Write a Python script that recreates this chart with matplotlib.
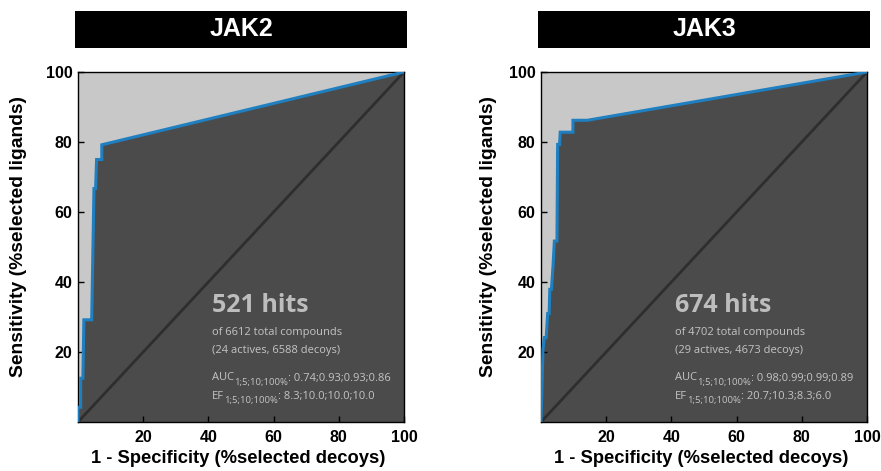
import numpy as np
import matplotlib
matplotlib.use("Agg")
import matplotlib.pyplot as plt
from matplotlib.patches import Rectangle

plt.rcParams['font.family'] = ['Liberation Sans', 'DejaVu Sans']

# ROC curve points (1 - specificity %, sensitivity %)
jak2_fpr = [0, 0, 0.8, 0.8, 1.5, 1.8, 4.2, 4.9, 5.4, 5.7, 7.3, 7.3, 100]
jak2_tpr = [0, 4.2, 4.2, 12.5, 12.5, 29.2, 29.2, 66.7, 66.7, 75.0, 75.0, 79.2, 100]
jak3_fpr = [0, 0.6, 1.0, 1.6, 2.05, 2.5, 2.7, 3.2, 3.7, 4.1, 4.9, 5.1, 5.7, 5.9, 9.8, 9.8, 14.2, 100]
jak3_tpr = [0, 20.7, 24.1, 24.1, 31.0, 31.0, 37.9, 37.9, 44.8, 51.7, 51.7, 79.3, 79.3, 82.8, 82.8, 86.2, 86.2, 100]

titles = ['JAK2', 'JAK3']
hits = ['521 hits', '674 hits']
totals = ['of 6612 total compounds', 'of 4702 total compounds']
splits = ['(24 actives, 6588 decoys)', '(29 actives, 4673 decoys)']
aucs = ['0.74;0.93;0.93;0.86', '0.98;0.99;0.99;0.89']
efs = ['8.3;10.0;10.0;10.0', '20.7;10.3;8.3;6.0']

ticks = [20, 40, 60, 80, 100]
sub = '1;5;10;100%'
fam = ['Open Sans', 'DejaVu Sans']
tcol = '#c4c4c4'


def sub_line(ax, x, y, head, value):
    # head + subscript + value, kept on one baseline
    t1 = ax.text(x, y, head, fontsize=8, color=tcol, family=fam, va='bottom', zorder=4)
    t2 = ax.annotate(sub, xy=(1, 0), xycoords=t1, xytext=(0, -2.2), textcoords='offset points',
                     fontsize=6.8, color=tcol, family=fam, va='bottom', zorder=4)
    ax.annotate(': ' + value, xy=(1, 0), xycoords=(t2, t1), fontsize=8, color=tcol,
                family=fam, va='bottom', zorder=4)


fig = plt.figure(figsize=(8.81, 4.71), dpi=100)

panels = [(jak2_fpr, jak2_tpr), (jak3_fpr, jak3_tpr)]
lefts = [78 / 881, 541 / 881]
ylab_x = [-0.156, -0.135]
w = 326 / 881
for i, (fx, ty) in enumerate(panels):
    ax = fig.add_axes([lefts[i], 49 / 471, w, 350 / 471])
    ax.set_facecolor('#c8c8c8')
    ax.fill(list(fx) + [100], list(ty) + [0], color='#4b4b4b', lw=0, zorder=1)
    ax.plot([0, 100], [0, 100], color='#2e2e2e', lw=2, zorder=2)
    ax.plot(fx, ty, color='#1f7fc0', lw=2.2, zorder=3, solid_joinstyle='miter')
    ax.set_xlim(0, 100)
    ax.set_ylim(0, 100)
    ax.set_xticks(ticks)
    ax.set_yticks(ticks)
    ax.tick_params(direction='in', length=4, width=1, labelsize=11.5)
    ax.tick_params(axis='x', pad=6)
    ax.tick_params(axis='y', pad=4)
    for lab in ax.get_xticklabels() + ax.get_yticklabels():
        lab.set_fontweight('bold')
    for s in ax.spines.values():
        s.set_linewidth(1)
    ax.set_xlabel('1 - Specificity (%selected decoys)', fontsize=13.2, fontweight='bold')
    ax.set_ylabel('Sensitivity (%selected ligands)', fontsize=13.9, fontweight='bold')
    ax.xaxis.set_label_coords(0.49, -0.08)
    ax.yaxis.set_label_coords(ylab_x[i], 0.529)

    tx = 41
    ax.text(tx, 31.5, hits[i], fontsize=18, fontweight='bold', color='#bdbdbd',
            family=fam, zorder=4)
    ax.text(tx, 25.0, totals[i], fontsize=8, color=tcol, family=fam, zorder=4)
    ax.text(tx, 19.6, splits[i], fontsize=8, color=tcol, family=fam, zorder=4)
    sub_line(ax, tx, 11.0, 'AUC', aucs[i])
    sub_line(ax, tx, 5.8, 'EF', efs[i])

    bx = lefts[i] - 3 / 881
    fig.patches.append(Rectangle((bx, 423 / 471), 332 / 881, 37 / 471, transform=fig.transFigure,
                                 facecolor='black', edgecolor='none'))
    fig.text(bx + 166 / 881, 441.5 / 471, titles[i], color='white', fontsize=18, fontweight='bold',
             ha='center', va='center')

fig.savefig('out.png', dpi=100)
